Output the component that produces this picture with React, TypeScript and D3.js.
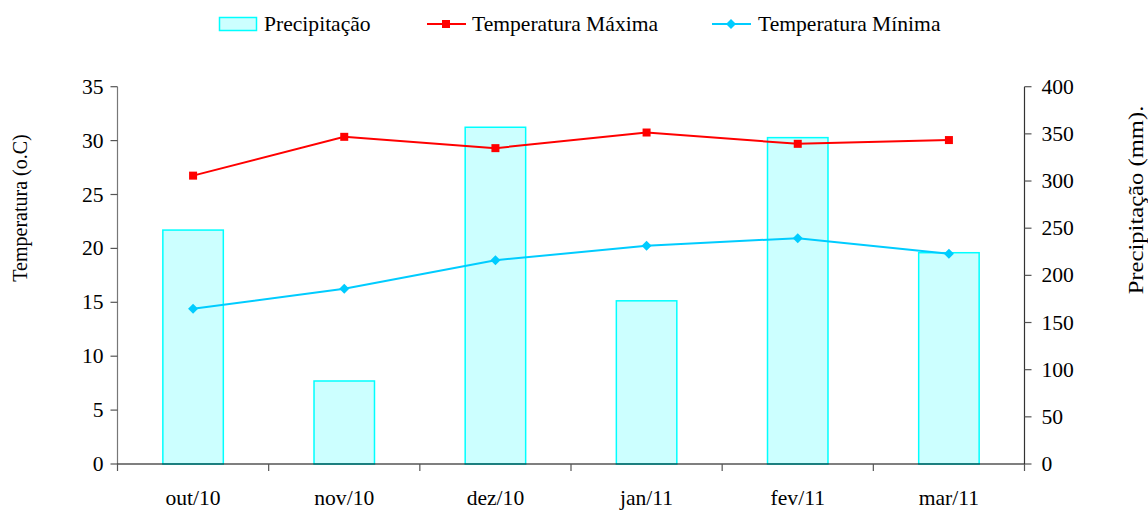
import React from "react";
import * as d3 from "d3";

const categories = ["out/10", "nov/10", "dez/10", "jan/11", "fev/11", "mar/11"];
const precipitation = [248, 88, 357, 173, 346, 224];
const tempMax = [26.75, 30.35, 29.3, 30.75, 29.7, 30.05];
const tempMin = [14.4, 16.25, 18.9, 20.25, 20.95, 19.5];
const leftTicks = [0, 5, 10, 15, 20, 25, 30, 35];
const rightTicks = [0, 50, 100, 150, 200, 250, 300, 350, 400];

const W = 1148;
const H = 511;
const FONT = "'Liberation Serif', 'Times New Roman', serif";
const FS = 20;
const SX = 1.08;

function HText(props: { x: number; y: number; anchor?: string; children: React.ReactNode }) {
  return (
    <text
      transform={`translate(${props.x},${props.y}) scale(${SX},1)`}
      textAnchor={props.anchor || "start"}
      fill="#000"
    >
      {props.children}
    </text>
  );
}

export default function App() {
  const left = 117.5;
  const right = 1024.5;
  const top = 86.7;
  const bottom = 464;

  const x = d3.scaleBand<string>().domain(categories).range([left, right]).paddingInner(0).paddingOuter(0);
  const yL = d3.scaleLinear().domain([0, 35]).range([bottom, top]);
  const yR = d3.scaleLinear().domain([0, 400]).range([bottom, top]);
  const bw = x.bandwidth() * 0.4;
  const cx = (c: string) => (x(c) as number) + x.bandwidth() / 2;

  const line = d3
    .line<number>()
    .x((_, i) => cx(categories[i]))
    .y((d) => yL(d));

  const boundaries = categories.map((c) => x(c) as number).concat([right]);
  const diamond = (px: number, py: number, r: number) =>
    `M${px},${py - r}L${px + r},${py}L${px},${py + r}L${px - r},${py}Z`;

  return (
    <svg width={W} height={H} style={{ position: "absolute", left: 0, top: 0 }} fontFamily={FONT} fontSize={FS}>
      <rect x={0} y={0} width={W} height={H} fill="#fff" />
      {/* Legend */}
      <g>
        <rect x={219.5} y={17.5} width={37} height={13} fill="#CCFFFF" stroke="#00FFFF" strokeWidth={1.5} />
        <HText x={264} y={31}>Precipitação</HText>
        <line x1={427} x2={466} y1={24} y2={24} stroke="#FF0000" strokeWidth={2} />
        <rect x={442} y={20} width={8} height={8} fill="#FF0000" />
        <HText x={472} y={31}>Temperatura Máxima</HText>
        <line x1={712} x2={751} y1={24} y2={24} stroke="#00CCFF" strokeWidth={2} />
        <path d={diamond(731, 24, 5)} fill="#00CCFF" />
        <HText x={758} y={31}>Temperatura Mínima</HText>
      </g>

      {/* Bars */}
      {categories.map((c, i) => (
        <rect
          key={c}
          x={cx(c) - bw / 2}
          y={yR(precipitation[i])}
          width={bw}
          height={bottom - yR(precipitation[i])}
          fill="#CCFFFF"
          stroke="#00FFFF"
          strokeWidth={1.5}
        />
      ))}

      {/* Left axis */}
      <line x1={left} x2={left} y1={top} y2={bottom} stroke="#777" strokeWidth={1.2} />
      {leftTicks.map((t) => (
        <g key={"l" + t}>
          <line x1={left - 7} x2={left} y1={yL(t)} y2={yL(t)} stroke="#555" strokeWidth={1.2} />
          <HText x={left - 14} y={yL(t) + 7} anchor="end">
            {t}
          </HText>
        </g>
      ))}

      {/* Right axis */}
      <line x1={right} x2={right} y1={top} y2={bottom} stroke="#333" strokeWidth={1.2} />
      {rightTicks.map((t) => (
        <g key={"r" + t}>
          <line x1={right} x2={right + 7} y1={yR(t)} y2={yR(t)} stroke="#555" strokeWidth={1.2} />
          <HText x={right + 17} y={yR(t) + 7}>
            {t}
          </HText>
        </g>
      ))}

      {/* X axis */}
      <line x1={left} x2={right} y1={bottom} y2={bottom} stroke="#000" strokeWidth={1.2} />
      {boundaries.map((b, i) => (
        <line key={"xb" + i} x1={b} x2={b} y1={bottom} y2={bottom + 7} stroke="#555" strokeWidth={1.2} />
      ))}
      {categories.map((c) => (
        <HText key={"xl" + c} x={cx(c)} y={505} anchor="middle">
          {c}
        </HText>
      ))}

      {/* Lines */}
      <path d={line(tempMax) || ""} fill="none" stroke="#FF0000" strokeWidth={2} />
      {tempMax.map((v, i) => (
        <rect key={"mx" + i} x={cx(categories[i]) - 4} y={yL(v) - 4} width={8} height={8} fill="#FF0000" />
      ))}
      <path d={line(tempMin) || ""} fill="none" stroke="#00CCFF" strokeWidth={2} />
      {tempMin.map((v, i) => (
        <path key={"mn" + i} d={diamond(cx(categories[i]), yL(v), 5)} fill="#00CCFF" />
      ))}

      {/* Axis titles */}
      <text transform={`translate(27,208) rotate(-90)`} textAnchor="middle" fill="#000">
        Temperatura (o.C)
      </text>
      <text transform={`translate(1143,200) rotate(-90) scale(1.12,1)`} textAnchor="middle" fill="#000" fontSize={22}>
        Precipitação (mm).
      </text>
    </svg>
  );
}
